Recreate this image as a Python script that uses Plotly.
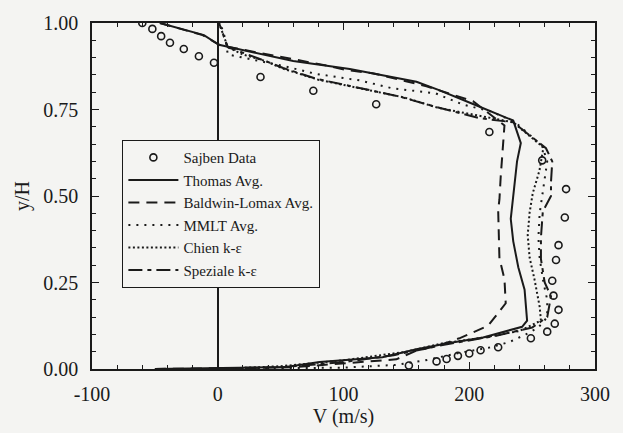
import plotly.graph_objects as go

# ---- data ----
sajben_v = [152, 174, 182, 191, 200, 209, 223, 249, 262, 268, 271, 267, 266, 269, 271, 276, 277, 258, 216, 126, 76, 34, -3, -15, -27, -38, -45, -52, -60]
sajben_y = [0.010, 0.022, 0.029, 0.038, 0.045, 0.054, 0.063, 0.089, 0.108, 0.131, 0.171, 0.212, 0.255, 0.315, 0.358, 0.438, 0.520, 0.603, 0.685, 0.765, 0.804, 0.844, 0.885, 0.904, 0.925, 0.943, 0.962, 0.983, 1.0]

thomas_y = [0.0, 0.003, 0.006, 0.02, 0.034, 0.057, 0.075, 0.091, 0.122, 0.14, 0.192, 0.229, 0.294, 0.369, 0.434, 0.508, 0.60, 0.653, 0.718, 0.766, 0.806, 0.830, 0.867, 0.89, 0.922, 0.937, 0.965, 1.0]
thomas_v = [-50, 17, 54, 81, 131, 158, 184, 211, 242, 246, 245, 244, 239, 235, 233, 235, 238, 241, 235, 203, 176, 158, 105, 60, 20, 1, -11, -46]

bl_y = [0.0, 0.005, 0.028, 0.053, 0.067, 0.09, 0.125, 0.19, 0.26, 0.32, 0.46, 0.49, 0.555, 0.639, 0.704, 0.774, 0.817, 0.836, 0.855, 0.864, 0.879, 0.935, 0.965, 1.0]
bl_v = [-50, 60, 142, 158, 175, 193, 215, 229, 228, 224, 223, 224, 225, 227, 228, 203, 166, 145, 123, 102, 84, 2, -12, -46]

mmlt_y = [0.0, 0.004, 0.012, 0.025, 0.045, 0.062, 0.078, 0.10, 0.12, 0.15, 0.20, 0.25, 0.32, 0.38, 0.45, 0.50, 0.55, 0.60, 0.645, 0.715, 0.746, 0.764, 0.797, 0.811, 0.834, 0.853, 0.876, 0.895, 0.909, 0.955, 1.0]
mmlt_v = [0, 100, 142, 165, 190, 216, 232, 245, 255, 262, 262, 259, 256, 255, 256, 258, 260, 262, 258, 236, 216, 195, 173, 139, 113, 78, 52, 28, 8, 6, 2]

chien_y = [0.0, 0.008, 0.025, 0.05, 0.075, 0.09, 0.11, 0.14, 0.18, 0.257, 0.322, 0.387, 0.452, 0.508, 0.573, 0.64, 0.713, 0.755, 0.785, 0.803, 0.836, 0.868, 0.89, 0.909, 0.93, 0.96, 1.0]
chien_v = [0, 50, 100, 150, 180, 210, 240, 257, 256, 252, 248, 246.5, 248, 250.5, 255.8, 259, 235, 175, 148, 124, 80, 52, 38, 20, 8, 5, 1]

spez_y = [0.0, 0.005, 0.02, 0.04, 0.07, 0.095, 0.12, 0.15, 0.21, 0.25, 0.318, 0.38, 0.455, 0.50, 0.54, 0.60, 0.638, 0.713, 0.725, 0.76, 0.788, 0.806, 0.839, 0.87, 0.89, 0.93, 0.96, 1.0]
spez_v = [0, 50, 100, 140, 180, 220, 250, 262, 265, 260, 257, 257, 258.5, 265, 265, 266, 261, 235, 208, 171, 144, 121, 78, 52, 38, 8, 5, 1]

x_ticks = [-100, 0, 100, 200, 300]
x_tick_text = ["-100", "0", "100", "200", "300"]
y_ticks = [0.0, 0.25, 0.50, 0.75, 1.00]
y_tick_text = ["0.00", "0.25", "0.50", "0.75", "1.00"]

INK = "#1a1a1a"
BG = "#f4f4f2"
FONT = "Liberation Serif"

fig = go.Figure()
fig.add_trace(go.Scatter(x=sajben_v, y=sajben_y, mode="markers", name="Sajben Data",
                         marker=dict(symbol="circle-open", size=7, color=INK, line=dict(width=1.6, color=INK))))
fig.add_trace(go.Scatter(x=thomas_v, y=thomas_y, mode="lines", name="Thomas Avg.",
                         line=dict(color=INK, width=2)))
fig.add_trace(go.Scatter(x=bl_v, y=bl_y, mode="lines", name="Baldwin-Lomax Avg.",
                         line=dict(color=INK, width=2, dash="11px,7px")))
fig.add_trace(go.Scatter(x=mmlt_v, y=mmlt_y, mode="lines", name="MMLT Avg.",
                         line=dict(color=INK, width=2, dash="2px,6px")))
fig.add_trace(go.Scatter(x=chien_v, y=chien_y, mode="lines", name="Chien k-ε",
                         line=dict(color=INK, width=2, dash="2px,2.5px")))
fig.add_trace(go.Scatter(x=spez_v, y=spez_y, mode="lines", name="Speziale k-ε",
                         line=dict(color=INK, width=2, dash="14px,5px,4px,5px")))

axis_common = dict(
    showline=True, linecolor=INK, linewidth=1.5, mirror="allticks",
    ticks="inside", ticklen=7, tickwidth=1.3, tickcolor=INK,
    showgrid=False,
    tickfont=dict(family=FONT, size=20, color=INK),
)

fig.update_xaxes(range=[-100, 300], tickvals=x_ticks, ticktext=x_tick_text,
                 zeroline=True, zerolinecolor=INK, zerolinewidth=1.5,
                 minor=dict(dtick=20, tick0=0, ticks="inside", ticklen=4, tickwidth=1.2, tickcolor=INK),
                 title=dict(text="V (m/s)", font=dict(family=FONT, size=20, color=INK), standoff=2),
                 ticklabelstandoff=6, **axis_common)
fig.update_yaxes(range=[0, 1], tickvals=y_ticks, ticktext=y_tick_text, zeroline=False,
                 minor=dict(dtick=0.05, tick0=0, ticks="inside", ticklen=4, tickwidth=1.2, tickcolor=INK),
                 title=dict(text="y/H", font=dict(family=FONT, size=20, color=INK), standoff=8),
                 ticklabelstandoff=8, **axis_common)

fig.update_layout(
    width=623, height=433,
    margin=dict(l=92, r=28, t=14, b=61),
    paper_bgcolor=BG, plot_bgcolor=BG,
    font=dict(family=FONT, size=18, color=INK),
    showlegend=True,
    legend=dict(x=0.06, y=0.662, xanchor="left", yanchor="top",
                bgcolor=BG, bordercolor=INK, borderwidth=1.2,
                font=dict(family=FONT, size=15, color=INK),
                itemwidth=50, tracegroupgap=0),
)

fig.write_html("out.html")
